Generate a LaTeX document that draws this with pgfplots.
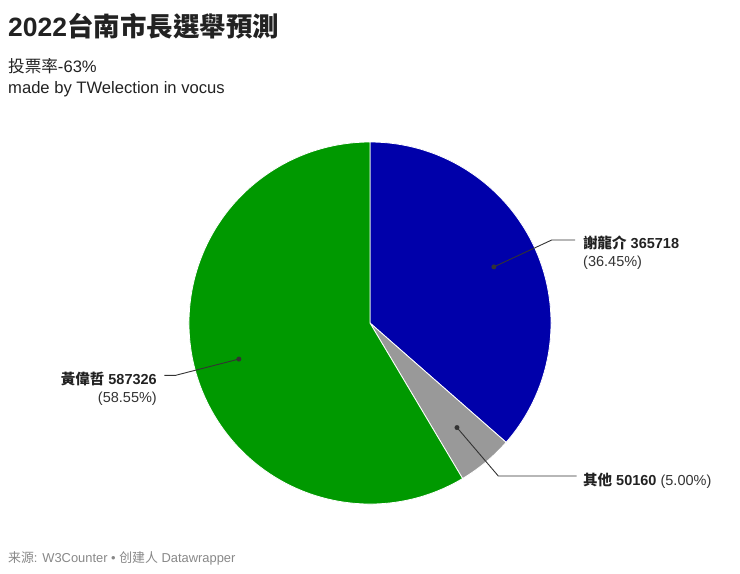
\documentclass[border=0pt]{standalone}
\usepackage{pgfplots}
\pgfplotsset{compat=1.18}
\usepackage{pgfplotstable}
\usepackage{fontspec}
\setmainfont{Liberation Sans}
\newfontfamily\cjk{Noto Sans CJK TC}

\definecolor{xieblue}{RGB}{0,0,170}
\definecolor{othergrey}{RGB}{153,153,153}
\definecolor{huanggreen}{RGB}{0,153,0}
\definecolor{ink}{RGB}{34,34,34}
\definecolor{leader}{RGB}{51,51,51}
\definecolor{foot}{RGB}{136,136,136}

% votes, clockwise from 12 o'clock
\pgfplotstableread{
name value
xie 365718
other 50160
huang 587326
}\votes

\pgfplotstablegetelem{0}{value}\of\votes \let\va\pgfplotsretval
\pgfplotstablegetelem{1}{value}\of\votes \let\vb\pgfplotsretval
\pgfplotstablegetelem{2}{value}\of\votes \let\vc\pgfplotsretval
\edef\total{\fpeval{\va+\vb+\vc}}
\edef\aA{90}
\edef\aB{\fpeval{round(90-360*\va/\total,4)}}
\edef\aC{\fpeval{round(\aB-360*\vb/\total,4)}}
\edef\aD{-270}
\edef\mA{\fpeval{round((\aA+\aB)/2,4)}}
\edef\mB{\fpeval{round((\aB+\aC)/2,4)}}
\edef\mC{\fpeval{round((\aC+\aD)/2,4)}}

\newcommand\titlefont{\fontsize{26.5bp}{30bp}\selectfont\bfseries}
\newcommand\subfont{\fontsize{16.6bp}{19bp}\selectfont}
\newcommand\labfont{\fontsize{14.5bp}{17bp}\selectfont}
\newcommand\footfont{\fontsize{12.9bp}{15bp}\selectfont}

\begin{document}
\begin{tikzpicture}
\begin{axis}[
  width=740bp, height=573bp, scale only axis,
  xmin=0, xmax=740, ymin=0, ymax=573,
  y dir=reverse,
  axis lines=none,
  clip=false,
]
\path (axis cs:0,0) rectangle (axis cs:740,573);

% slices
\fill[xieblue, draw=white, line width=0.8bp] (axis cs:370,323) -- ++(\aA:181bp)
  arc[start angle=\aA, end angle=\aB, radius=181bp] -- cycle;
\fill[othergrey, draw=white, line width=0.8bp] (axis cs:370,323) -- ++(\aB:181bp)
  arc[start angle=\aB, end angle=\aC, radius=181bp] -- cycle;
\fill[huanggreen, draw=white, line width=0.8bp] (axis cs:370,323) -- ++(\aC:181bp)
  arc[start angle=\aC, end angle=\aD, radius=181bp] -- cycle;

% leader lines
\draw[leader, line width=0.9bp] (axis cs:370,323) ++(\mA:136bp) -- (axis cs:551.7,240) -- (axis cs:575,240);
\draw[leader, line width=0.9bp] (axis cs:370,323) ++(\mB:136bp) -- (axis cs:498.3,476) -- (axis cs:576.7,476);
\draw[leader, line width=0.9bp] (axis cs:370,323) ++(\mC:136bp) -- (axis cs:175.7,375.3) -- (axis cs:164.3,375.3);
\fill[leader] (axis cs:370,323) ++(\mA:136bp) circle[radius=2.5bp];
\fill[leader] (axis cs:370,323) ++(\mB:136bp) circle[radius=2.5bp];
\fill[leader] (axis cs:370,323) ++(\mC:136bp) circle[radius=2.5bp];

% labels
\node[anchor=base west, inner sep=0, text=ink] at (axis cs:583,248) {\labfont\bfseries{\cjk 謝龍介} 365718};
\node[anchor=base west, inner sep=0, text=leader] at (axis cs:583,266) {\labfont (36.45\%)};
\node[anchor=base west, inner sep=0, text=ink] at (axis cs:583,485) {\labfont{\bfseries{\cjk 其他} 50160} {\color{leader}(5.00\%)}};
\node[anchor=base east, inner sep=0, text=ink] at (axis cs:157,384.5) {\labfont\bfseries{\cjk 黃偉哲} 587326};
\node[anchor=base east, inner sep=0, text=leader] at (axis cs:157,402) {\labfont (58.55\%)};

% titles
\node[anchor=base west, inner sep=0, text=ink] at (axis cs:8,37) {\titlefont 2022{\cjk 台南市長選舉預測}};
\node[anchor=base west, inner sep=0, text=ink] at (axis cs:8,73) {\subfont{\cjk 投票率}-63\%};
\node[anchor=base west, inner sep=0, text=ink] at (axis cs:8,93) {\subfont made by TWelection in vocus};
\node[anchor=base west, inner sep=0, text=foot] at (axis cs:8,562) {\footfont{\cjk 来源}: W3Counter \textbullet\ {\cjk 创建人} Datawrapper};
\end{axis}
\end{tikzpicture}
\end{document}
